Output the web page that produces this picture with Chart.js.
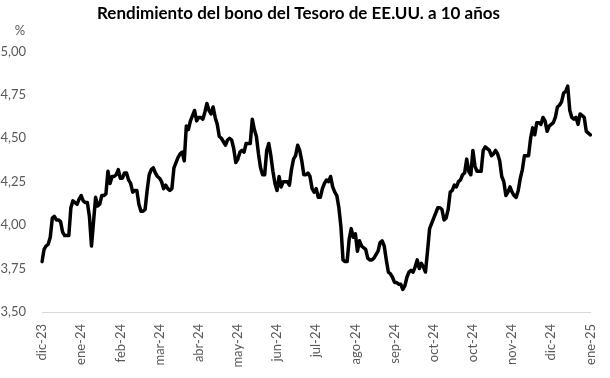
<!DOCTYPE html>
<html>
<head>
<meta charset="utf-8">
<script src="https://cdn.jsdelivr.net/npm/chart.js@4.4.1/dist/chart.umd.min.js"></script>
<style>
  html, body { margin: 0; padding: 0; background: #fff; }
  #wrap { width: 610px; height: 378px; position: relative; }
</style>
</head>
<body>
<div id="wrap"><canvas id="myChart"></canvas></div>
<script>
// rendimiento diario (%)
const rendimiento = [
  3.79, 3.86, 3.88, 3.89, 3.93, 4.04, 4.05, 4.03, 4.03, 4.02,
  3.96, 3.94, 3.94, 3.94, 4.10, 4.14, 4.13, 4.12, 4.15, 4.17,
  4.14, 4.13, 4.13, 4.05, 3.88, 4.02, 4.16, 4.11, 4.12, 4.17,
  4.17, 4.18, 4.31, 4.24, 4.28, 4.28, 4.29, 4.32, 4.27, 4.27,
  4.30, 4.30, 4.26, 4.24, 4.19, 4.20, 4.20, 4.12, 4.08, 4.08,
  4.09, 4.20, 4.29, 4.32, 4.33, 4.30, 4.28, 4.27, 4.25, 4.21,
  4.23, 4.21, 4.20, 4.21, 4.33, 4.36, 4.39, 4.41, 4.42, 4.37,
  4.57, 4.55, 4.60, 4.63, 4.66, 4.60, 4.62, 4.62, 4.61, 4.65,
  4.70, 4.66, 4.64, 4.68, 4.62, 4.58, 4.51, 4.50, 4.48, 4.46,
  4.49, 4.50, 4.49, 4.44, 4.36, 4.38, 4.42, 4.43, 4.42, 4.47,
  4.47, 4.47, 4.61, 4.55, 4.51, 4.41, 4.33, 4.29, 4.29, 4.43,
  4.47, 4.40, 4.31, 4.24, 4.20, 4.28, 4.22, 4.25, 4.25, 4.25,
  4.23, 4.32, 4.38, 4.40, 4.46, 4.43, 4.37, 4.29, 4.29, 4.30,
  4.28, 4.21, 4.19, 4.21, 4.16, 4.16, 4.21, 4.24, 4.26, 4.25,
  4.28, 4.22, 4.19, 4.17, 4.10, 3.99, 3.80, 3.79, 3.79, 3.92,
  3.98, 3.93, 3.95, 3.85, 3.91, 3.88, 3.87, 3.86, 3.81, 3.80,
  3.80, 3.81, 3.83, 3.85, 3.90, 3.91, 3.88, 3.80, 3.73, 3.72,
  3.70, 3.67, 3.67, 3.66, 3.66, 3.63, 3.65, 3.70, 3.73, 3.74,
  3.73, 3.76, 3.80, 3.75, 3.78, 3.76, 3.73, 3.85, 3.98, 4.01,
  4.04, 4.07, 4.10, 4.10, 4.09, 4.03, 4.04, 4.09, 4.19, 4.20,
  4.23, 4.22, 4.25, 4.26, 4.29, 4.30, 4.38, 4.31, 4.29, 4.43,
  4.34, 4.31, 4.31, 4.31, 4.43, 4.45, 4.44, 4.43, 4.40, 4.41,
  4.43, 4.41, 4.37, 4.28, 4.25, 4.17, 4.19, 4.22, 4.19, 4.17,
  4.16, 4.20, 4.27, 4.32, 4.40, 4.40, 4.40, 4.50, 4.56, 4.52,
  4.59, 4.59, 4.58, 4.62, 4.60, 4.54, 4.57, 4.58, 4.59, 4.62,
  4.68, 4.69, 4.71, 4.76, 4.77, 4.80, 4.66, 4.62, 4.61, 4.62,
  4.58, 4.64, 4.63, 4.62, 4.54, 4.53, 4.52
];

// etiquetas del eje x, una cada 19 datos
const etiquetasMes = ['dic-23', 'ene-24', 'feb-24', 'mar-24', 'abr-24', 'may-24', 'jun-24',
  'jul-24', 'ago-24', 'sep-24', 'oct-24', 'oct-24', 'nov-24', 'dic-24', 'ene-25'];
const cadaN = 19;

const yTicks = [3.50, 3.75, 4.00, 4.25, 4.50, 4.75, 5.00];

let labels = [];
for (let i = 0; i < rendimiento.length; i++) {
  labels.push(i % cadaN === 0 ? etiquetasMes[i / cadaN] : '');
}

const txtColor = '#595959';
const fuente = "Lato, 'Open Sans', sans-serif";

const percentLabel = {
  id: 'percentLabel',
  afterDraw(chart) {
    const c = chart.ctx;
    c.save();
    c.font = '13px ' + fuente;
    c.fillStyle = txtColor;
    c.textAlign = 'center';
    c.textBaseline = 'middle';
    c.fillText('%', 20, 31);
    c.restore();
  }
};

const ctx = document.getElementById('myChart');
new Chart(ctx, {
  type: 'line',
  data: {
    labels: labels,
    datasets: [{
      data: rendimiento,
      borderColor: '#000000',
      borderWidth: 3.5,
      pointRadius: 0,
      tension: 0,
      borderJoinStyle: 'round',
      borderCapStyle: 'round'
    }]
  },
  options: {
    responsive: true,
    maintainAspectRatio: false,
    animation: false,
    layout: { padding: { left: 0, right: 13, top: 0, bottom: 0 } },
    plugins: {
      legend: { display: false },
      tooltip: { enabled: false },
      title: {
        display: true,
        text: 'Rendimiento del bono del Tesoro de EE.UU. a 10 años',
        color: '#000000',
        font: { family: fuente, size: 17, weight: 'bold' },
        padding: { top: 3, bottom: 28 }
      }
    },
    scales: {
      x: {
        grid: { display: false },
        border: { display: true, color: '#d9d9d9', width: 1 },
        ticks: {
          autoSkip: false,
          minRotation: 90,
          maxRotation: 90,
          color: txtColor,
          font: { family: fuente, size: 13 },
          padding: 4
        },
        afterFit(axis) { axis.height = 66; }
      },
      y: {
        min: 3.5,
        max: 5.0,
        afterBuildTicks(axis) { axis.ticks = yTicks.map(v => ({ value: v })); },
        grid: { display: false },
        border: { display: false },
        ticks: {
          color: txtColor,
          font: { family: fuente, size: 13 },
          padding: 8,
          callback: v => v.toFixed(2).replace('.', ',')
        },
        afterFit(axis) { axis.width = 42; }
      }
    }
  },
  plugins: [percentLabel]
});
</script>
</body>
</html>
